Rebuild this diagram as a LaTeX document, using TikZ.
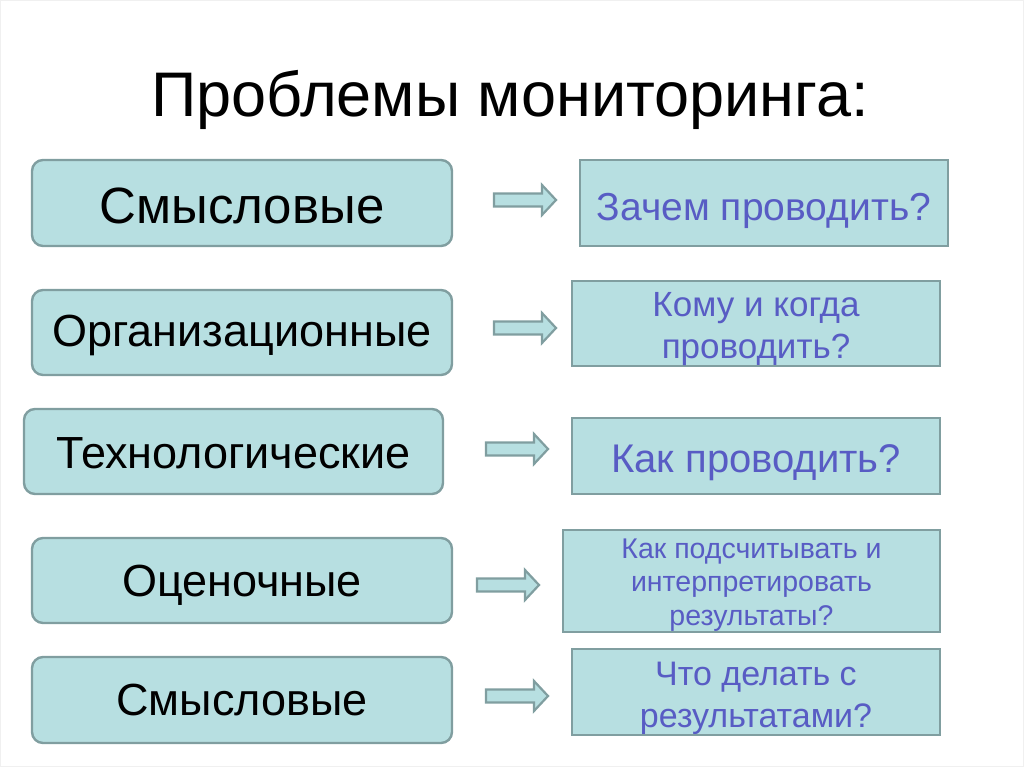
\documentclass[tikz,border=0pt]{standalone}
\usepackage{fontspec}
\setmainfont{Liberation Sans}
\begin{document}
\begin{tikzpicture}[x=1pt,y=-1pt,
  boxfill/.style={fill={rgb,255:red,183;green,223;blue,225}},
  boxline/.style={draw={rgb,255:red,128;green,158;blue,160}, line width=2.4pt},
  leftbox/.style={boxfill, boxline, rounded corners=11pt, inner sep=0pt},
  rightbox/.style={boxfill, boxline, inner sep=0pt},
  lefttext/.style={text=black, align=center, inner sep=0pt},
  righttext/.style={text={rgb,255:red,88;green,92;blue,196}, align=center, inner sep=0pt},
  blockarrow/.style={boxfill, draw={rgb,255:red,128;green,158;blue,160}, line width=2.2pt, line join=miter}
]
\useasboundingbox (0,0) rectangle (1024,767);
\draw[line width=1pt, draw={rgb,255:red,240;green,240;blue,240}] (0.5,0.5) rectangle (1023.5,766.5);

\node[font=\fontsize{63}{70}\selectfont] (title) at (510,100) {Проблемы мониторинга:};

\node[leftbox, minimum width=420, minimum height=86] (l1) at (242,203) {};
\node[leftbox, minimum width=420, minimum height=85] (l2) at (242,332.5) {};
\node[leftbox, minimum width=419, minimum height=85] (l3) at (233.5,451.5) {};
\node[leftbox, minimum width=420, minimum height=85] (l4) at (242,580.5) {};
\node[leftbox, minimum width=420, minimum height=86] (l5) at (242,700) {};

\node[lefttext, font=\fontsize{51}{56}\selectfont, yshift=-3pt] (l1t) at (l1.center) {Смысловые};
\node[lefttext, font=\fontsize{45}{50}\selectfont, yshift=-3pt] (l2t) at (l2.center) {Организационные};
\node[lefttext, font=\fontsize{45}{50}\selectfont, yshift=-2pt] (l3t) at (l3.center) {Технологические};
\node[lefttext, font=\fontsize{45}{50}\selectfont, yshift=-5pt] (l4t) at (l4.center) {Оценочные};
\node[lefttext, font=\fontsize{45}{50}\selectfont] (l5t) at (l5.center) {Смысловые};

\node[rightbox, minimum width=368, minimum height=86] (r1) at (764,203) {};
\node[rightbox, minimum width=368, minimum height=85] (r2) at (756,323.5) {};
\node[rightbox, minimum width=368, minimum height=76] (r3) at (756,456) {};
\node[rightbox, minimum width=377, minimum height=102] (r4) at (751.5,581) {};
\node[rightbox, minimum width=368, minimum height=86] (r5) at (756,692) {};

\node[righttext, font=\fontsize{39}{44}\selectfont, yshift=-8pt] (r1t) at (r1.center) {Зачем проводить?};
\node[righttext, font=\fontsize{35}{42}\selectfont, yshift=-6pt] (r2t) at (r2.center) {Кому и когда\\проводить?};
\node[righttext, font=\fontsize{40}{44}\selectfont, yshift=-7pt] (r3t) at (r3.center) {Как проводить?};
\node[righttext, font=\fontsize{28.5}{33.5}\selectfont, yshift=-4pt] (r4t) at (r4.center) {Как подсчитывать и\\интерпретировать\\результаты?};
\node[righttext, font=\fontsize{34}{42}\selectfont, yshift=-6pt] (r5t) at (r5.center) {Что делать с\\результатами?};

\coordinate (a1) at (525,200);
\coordinate (a2) at (525,328);
\coordinate (a3) at (517,449);
\coordinate (a4) at (508,585);
\coordinate (a5) at (517,696);
\foreach \a in {a1,a2,a3,a4,a5}{
  \draw[blockarrow, shift={(\a)}] (-31,-6.5) -- (17,-6.5) -- (17,-15) -- (31,0) -- (17,15) -- (17,6.5) -- (-31,6.5) -- cycle;
}
\end{tikzpicture}
\end{document}
